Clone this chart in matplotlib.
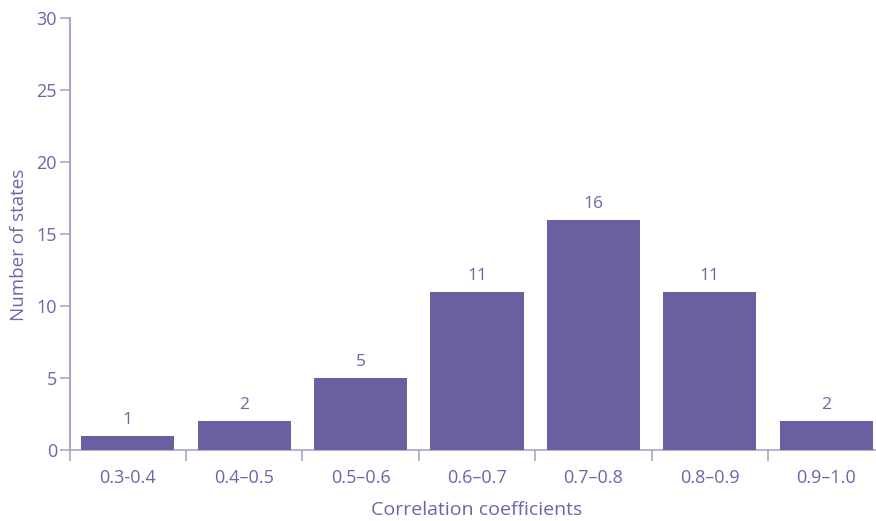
import matplotlib.pyplot as plt
import numpy as np

# Данные
categories = ["0.3-0.4", "0.4\u20130.5", "0.5\u20130.6", "0.6\u20130.7",
              "0.7\u20130.8", "0.8\u20130.9", "0.9\u20131.0"]
counts = [1, 2, 5, 11, 16, 11, 2]
y_ticks = [0, 5, 10, 15, 20, 25, 30]

bar_color = "#6a5fa1"
text_color = "#6f64a8"
axis_color = "#aaa4cc"

plt.rcParams['font.family'] = ['Open Sans', 'DejaVu Sans']

fig = plt.figure(figsize=(8.76, 5.21), dpi=100)
ax = fig.add_axes([69.6 / 876, 1 - 450 / 521, (884.4 - 69.6) / 876, (450 - 18) / 521])

x = np.arange(len(categories))
bars = ax.bar(x, counts, width=0.8, color=bar_color, zorder=3)

for xi, v in zip(x, counts):
    ax.text(xi, v + 0.55, str(v), ha='center', va='bottom',
            fontsize=12.5, color=text_color)

ax.set_xlim(-0.5, len(categories) - 0.5)
ax.set_ylim(0, 30)

# подписи по центрам, засечки на границах
ax.set_xticks(np.arange(len(categories) + 1) - 0.5)
ax.set_xticklabels([])
ax.set_xticks(x, minor=True)
ax.set_xticklabels(categories, minor=True)
ax.tick_params(axis='x', which='major', direction='out', length=8,
               width=1.2, color=axis_color)
ax.tick_params(axis='x', which='minor', length=0, pad=14,
               labelsize=13, labelcolor=text_color)

ax.set_yticks(y_ticks)
ax.tick_params(axis='y', direction='out', length=7, width=1.2,
               color=axis_color, labelsize=13, labelcolor=text_color, pad=2)

for side in ['top', 'right']:
    ax.spines[side].set_visible(False)
ax.spines['left'].set_color(axis_color)
ax.spines['left'].set_linewidth(1.5)
ax.spines['bottom'].set_color(axis_color)
ax.spines['bottom'].set_linewidth(1.2)

ax.set_xlabel("Correlation coefficients", fontsize=14, color=text_color, labelpad=10)
ax.set_ylabel("Number of states", fontsize=13.5, color=text_color)
ax.yaxis.set_label_coords(-0.051, 0.475)

fig.savefig("out.png", dpi=100)
